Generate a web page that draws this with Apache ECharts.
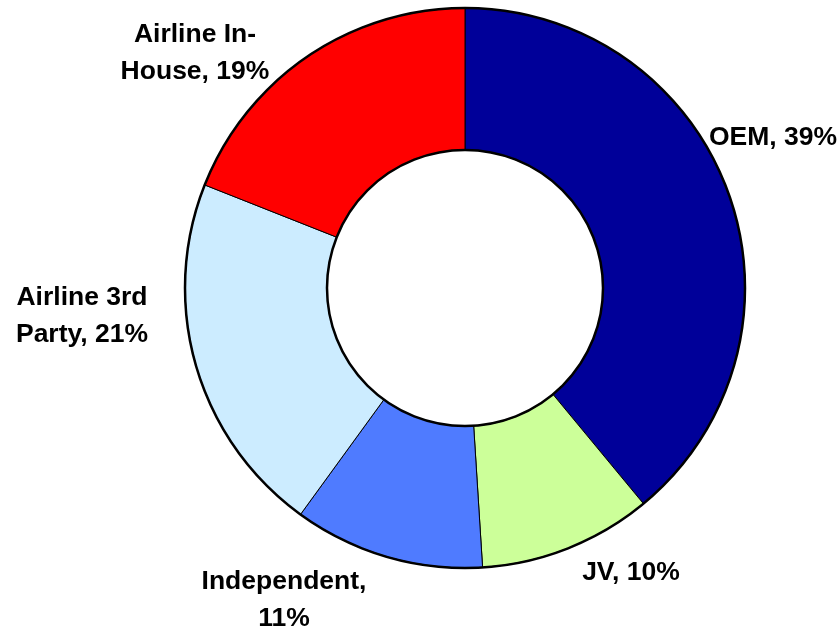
<!DOCTYPE html>
<html>
<head>
<meta charset="utf-8">
<script src="https://cdn.jsdelivr.net/npm/echarts@6/dist/echarts.min.js"></script>
<style>
html,body{margin:0;padding:0;background:#fff;}
#chart{width:840px;height:632px;}
</style>
</head>
<body>
<div id="chart"></div>
<script>
// ---- data ----
const categories = ['OEM', 'JV', 'Independent', 'Airline 3rd Party', 'Airline In-House'];
const shares = [39, 10, 11, 21, 19];
const sliceColors = ['#000099', '#CCFF99', '#4F7BFF', '#CCECFF', '#FF0000'];
// wrapped label text (line breaks as in the reference)
const labelLines = [
  ['OEM, 39%'],
  ['JV, 10%'],
  ['Independent,', '11%'],
  ['Airline 3rd', 'Party, 21%'],
  ['Airline In-', 'House, 19%']
];

// ---- layout ----
const labelPos = [[773, 138], [631, 573], [284, 600], [82, 316], [195, 53]];
const center = [465, 288];
const radii = [138, 280];

const chart = echarts.init(document.getElementById('chart'));
chart.setOption({
  animation: false,
  backgroundColor: '#ffffff',
  series: [
    {
      type: 'pie',
      center: center,
      radius: radii,
      startAngle: 90,
      clockwise: true,
      avoidLabelOverlap: false,
      itemStyle: { borderColor: '#000', borderWidth: 1 },
      emphasis: { disabled: true },
      label: {
        show: true,
        position: 'outside',
        fontFamily: 'Liberation Sans, Arial, sans-serif',
        fontWeight: 'bold',
        fontSize: 26.5,
        lineHeight: 37,
        color: '#000',
        align: 'center',
        formatter: p => labelLines[p.dataIndex].join('\n')
      },
      labelLine: { show: false },
      labelLayout: params => {
        const p = labelPos[params.dataIndex];
        return { x: p[0], y: p[1], align: 'center', verticalAlign: 'middle' };
      },
      data: categories.map((c, i) => ({
        name: c, value: shares[i], itemStyle: { color: sliceColors[i] }
      }))
    },
    {
      type: 'pie',
      silent: true,
      center: center,
      radius: radii,
      label: { show: false },
      labelLine: { show: false },
      itemStyle: { color: 'rgba(0,0,0,0)', borderColor: '#000', borderWidth: 2.5 },
      data: [{ name: 'outline', value: 1 }]
    }
  ]
});
</script>
</body>
</html>
